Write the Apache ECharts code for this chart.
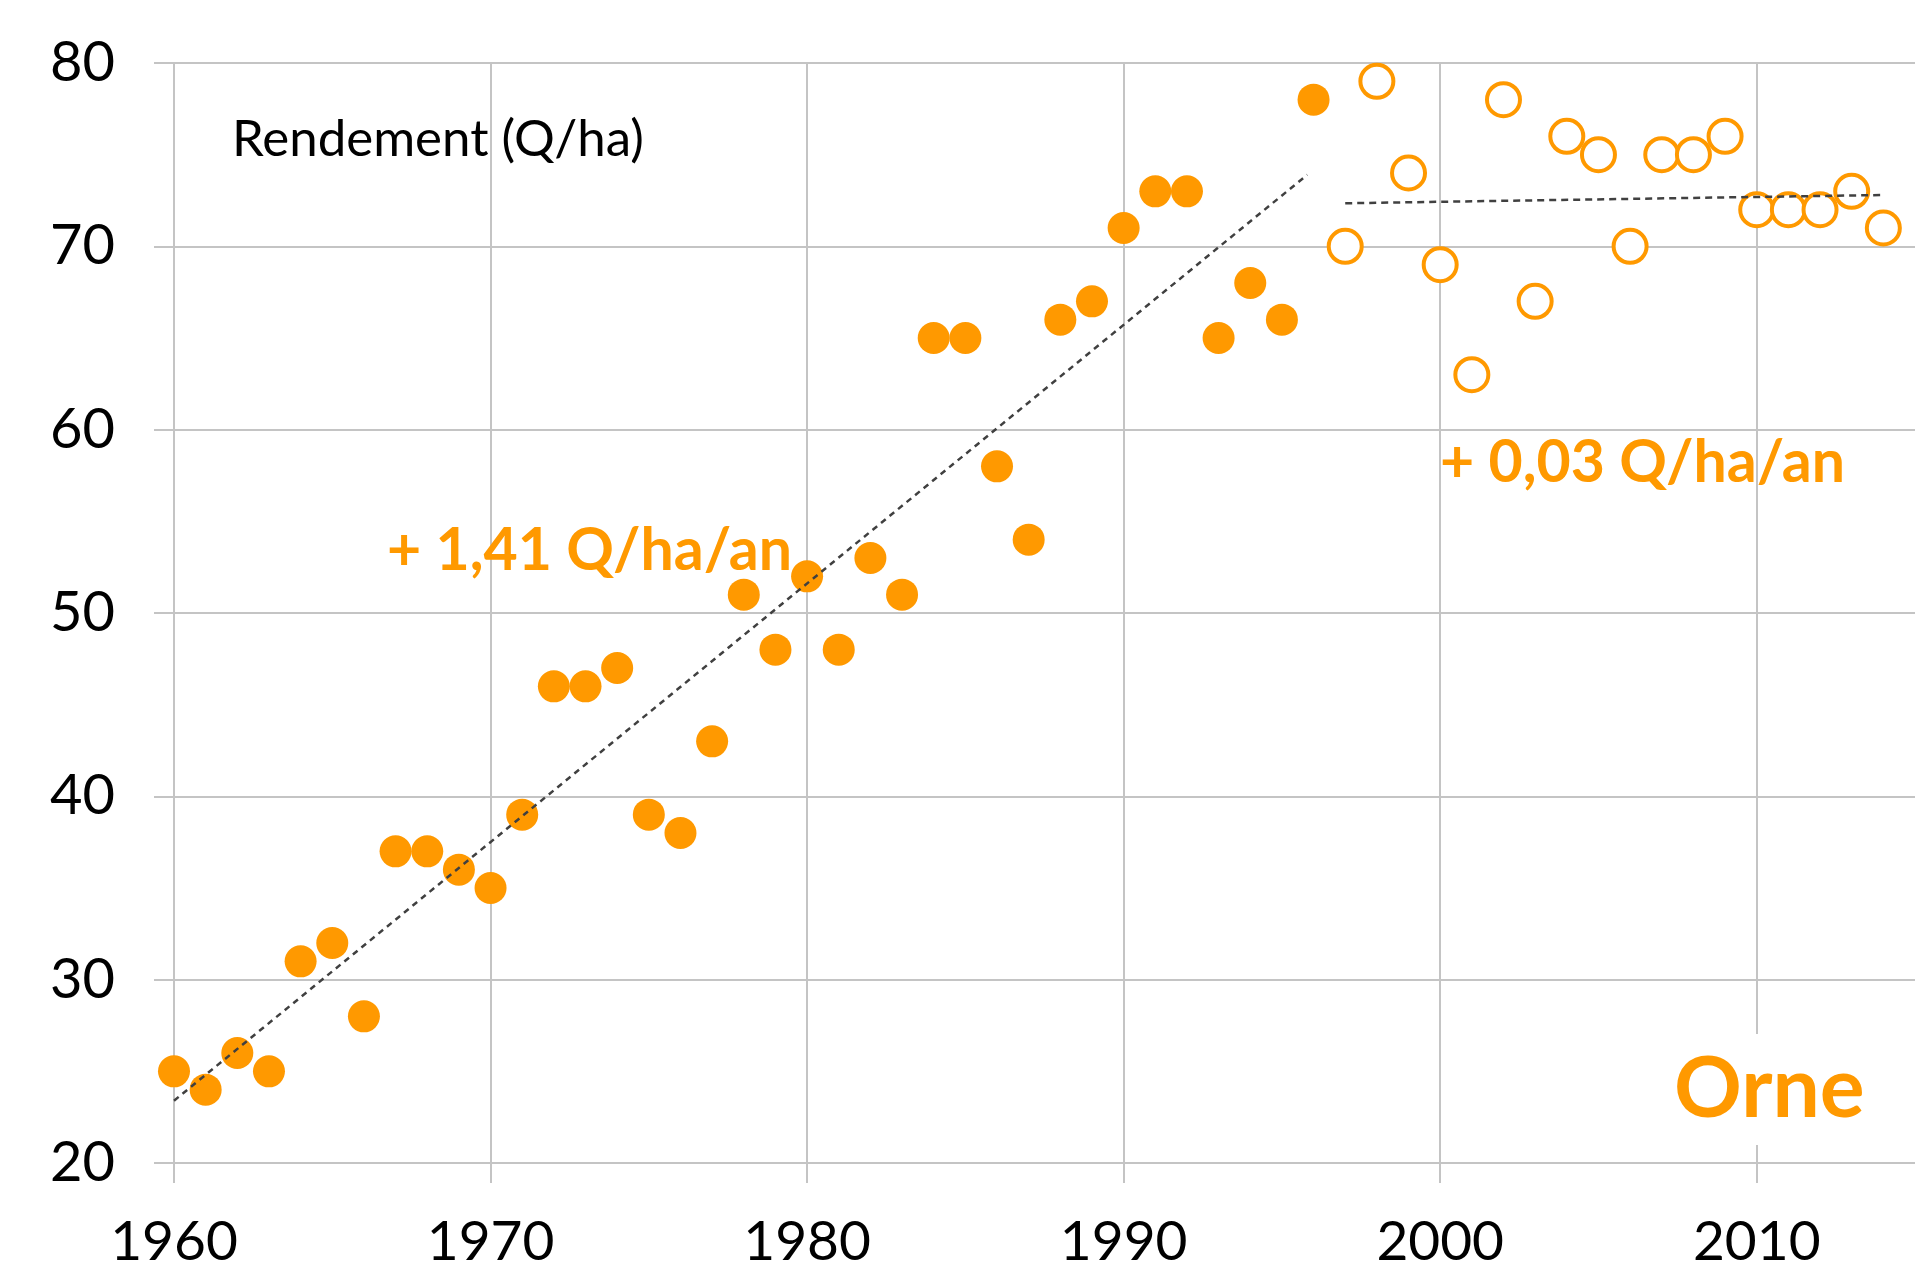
<!DOCTYPE html>
<html>
<head>
<meta charset="utf-8">
<title>Rendement Orne</title>
<script src="https://cdn.jsdelivr.net/npm/echarts@6/dist/echarts.min.js"></script>
<style>
  html, body { margin: 0; padding: 0; background: #fff; }
  #chart { width: 1915px; height: 1273px; }
</style>
</head>
<body>
<div id="chart"></div>
<script>
// rendements 1960-1996 (points pleins)
const yearsFull = [1960, 1961, 1962, 1963, 1964, 1965, 1966, 1967, 1968, 1969,
  1970, 1971, 1972, 1973, 1974, 1975, 1976, 1977, 1978, 1979,
  1980, 1981, 1982, 1983, 1984, 1985, 1986, 1987, 1988, 1989,
  1990, 1991, 1992, 1993, 1994, 1995, 1996]
const yieldFull = [25, 24, 26, 25, 31, 32, 28, 37, 37, 36,
  35, 39, 46, 46, 47, 39, 38, 43, 51, 48,
  52, 48, 53, 51, 65, 65, 58, 54, 66, 67,
  71, 73, 73, 65, 68, 66, 78]

// rendements 1997-2014 (points creux)
const yearsEmpty = [1997, 1998, 1999, 2000, 2001, 2002, 2003, 2004, 2005,
  2006, 2007, 2008, 2009, 2010, 2011, 2012, 2013, 2014]
const yieldEmpty = [70, 79, 74, 69, 63, 78, 67, 76, 75,
  70, 75, 75, 76, 72, 72, 72, 73, 71]

// droites de tendance
const trendOneX = [1960, 1995.8]
const trendOneY = [23.4, 73.9]
const trendTwoX = [1997, 2014]
const trendTwoY = [72.35, 72.8]

const xTicks = [1960, 2015, 10]
const yTicks = [20, 80, 10]

const orange = '#FF9900'
const gridColor = '#c4c4c4'

const pairs = (xs, ys) => xs.map((x, i) => [x, ys[i]])

const chart = echarts.init(document.getElementById('chart'))

chart.setOption({
  animation: false,
  backgroundColor: '#fff',
  grid: {
    left: 174,
    top: 63,
    width: 1743,
    height: 1100
  },
  xAxis: {
    type: 'value',
    min: xTicks[0],
    max: xTicks[1],
    interval: xTicks[2],
    axisLine: { show: true, lineStyle: { color: gridColor, width: 2 } },
    axisTick: { show: true, length: 20, lineStyle: { color: gridColor, width: 2 } },
    splitLine: { show: true, showMaxLine: false, lineStyle: { color: gridColor, width: 2 } },
    axisLabel: {
      showMaxLabel: false,
      margin: 52,
      color: '#000',
      fontFamily: 'Lato',
      fontSize: 55,
      formatter: v => String(v)
    }
  },
  yAxis: {
    type: 'value',
    min: yTicks[0],
    max: yTicks[1],
    interval: yTicks[2],
    axisLine: { show: true, lineStyle: { color: gridColor, width: 2 } },
    axisTick: { show: true, length: 20, lineStyle: { color: gridColor, width: 2 } },
    splitLine: { show: true, lineStyle: { color: gridColor, width: 2 } },
    axisLabel: {
      margin: 59,
      color: '#000',
      fontFamily: 'Lato',
      fontSize: 56
    }
  },
  graphic: [
    {
      type: 'text',
      x: 232,
      y: 140,
      z: 100,
      style: {
        text: 'Rendement (Q/ha)',
        font: '51px Lato',
        fill: '#000',
        verticalAlign: 'middle'
      }
    },
    {
      type: 'text',
      x: 387,
      y: 551,
      z: 100,
      style: {
        text: '+ 1,41 Q/ha/an',
        font: 'bold 59px Lato',
        fill: orange,
        verticalAlign: 'middle'
      }
    },
    {
      type: 'text',
      x: 1440,
      y: 463,
      z: 100,
      style: {
        text: '+ 0,03 Q/ha/an',
        font: 'bold 59px Lato',
        fill: orange,
        verticalAlign: 'middle'
      }
    },
    {
      type: 'rect',
      z: 99,
      shape: { x: 1655, y: 1034, width: 235, height: 111 },
      style: { fill: '#fff' }
    },
    {
      type: 'text',
      x: 1674,
      y: 1090,
      z: 100,
      style: {
        text: 'Orne',
        font: 'bold 84px Lato',
        fill: orange,
        verticalAlign: 'middle'
      }
    }
  ],
  series: [
    {
      type: 'scatter',
      data: pairs(yearsFull, yieldFull),
      symbolSize: 32,
      itemStyle: { color: orange, opacity: 1 },
      z: 2
    },
    {
      type: 'scatter',
      data: pairs(yearsEmpty, yieldEmpty),
      symbolSize: 33,
      itemStyle: { color: '#fff', borderColor: orange, borderWidth: 4, opacity: 1 },
      z: 2
    },
    {
      type: 'line',
      data: pairs(trendOneX, trendOneY),
      symbol: 'none',
      lineStyle: { color: '#404040', width: 2.5, type: [6, 5] },
      z: 3
    },
    {
      type: 'line',
      data: pairs(trendTwoX, trendTwoY),
      symbol: 'none',
      lineStyle: { color: '#404040', width: 2.5, type: [7, 5] },
      z: 3
    }
  ]
})
</script>
</body>
</html>
